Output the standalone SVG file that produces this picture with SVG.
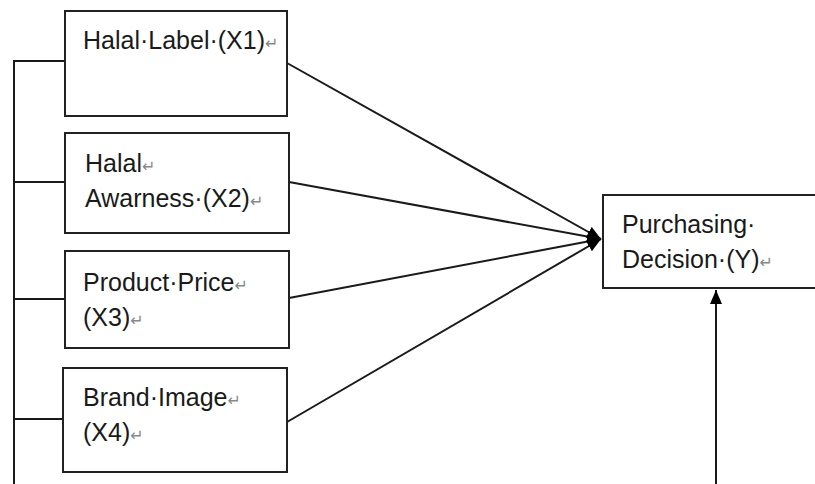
<svg xmlns="http://www.w3.org/2000/svg" width="815" height="484" viewBox="0 0 815 484">
  <defs>
    <marker id="arr" viewBox="0 0 14 12" refX="14" refY="6" markerWidth="14" markerHeight="12" markerUnits="userSpaceOnUse" orient="auto">
      <path d="M0,0 L14,6 L0,12 Z" fill="#000"/>
    </marker>
    <style>
      .box { fill: #fff; stroke: #222; stroke-width: 2; }
      .lbl { font-family: "Liberation Sans", Arial, sans-serif; font-size: 25px; fill: #1a1a1a; }
      .ret { font-family: "DejaVu Sans", sans-serif; font-size: 16px; fill: #888; }
      .conn { stroke: #1a1a1a; stroke-width: 2; fill: none; }
    </style>
  </defs>
  <rect width="815" height="484" fill="#fff"/>

  <g id="connectors">
    <polyline class="conn" points="65,61 14,61 14,484"/>
    <line class="conn" x1="14" y1="182" x2="65" y2="182"/>
    <line class="conn" x1="14" y1="299" x2="65" y2="299"/>
    <line class="conn" x1="14" y1="419" x2="63" y2="419"/>
    <line class="conn" x1="287" y1="63" x2="601" y2="239" marker-end="url(#arr)"/>
    <line class="conn" x1="289" y1="182" x2="601" y2="239" marker-end="url(#arr)"/>
    <line class="conn" x1="289" y1="298" x2="601" y2="239" marker-end="url(#arr)"/>
    <line class="conn" x1="287" y1="422" x2="601" y2="239" marker-end="url(#arr)"/>
    <line class="conn" x1="716" y1="484" x2="716" y2="290" marker-end="url(#arr)"/>
  </g>

  <g id="x1">
    <rect class="box" x="65" y="11" width="222" height="105"/>
    <text class="lbl" x="83" y="49">Halal·Label·(X1)<tspan class="ret">↵</tspan></text>
  </g>
  <g id="x2">
    <rect class="box" x="65" y="133" width="224" height="100"/>
    <text class="lbl" x="85" y="172">Halal<tspan class="ret">↵</tspan></text>
    <text class="lbl" x="85" y="207">Awarness·(X2)<tspan class="ret">↵</tspan></text>
  </g>
  <g id="x3">
    <rect class="box" x="65" y="251" width="224" height="97"/>
    <text class="lbl" x="83" y="291">Product·Price<tspan class="ret">↵</tspan></text>
    <text class="lbl" x="83" y="326">(X3)<tspan class="ret">↵</tspan></text>
  </g>
  <g id="x4">
    <rect class="box" x="63" y="368" width="224" height="104"/>
    <text class="lbl" x="83" y="406">Brand·Image<tspan class="ret">↵</tspan></text>
    <text class="lbl" x="83" y="441">(X4)<tspan class="ret">↵</tspan></text>
  </g>
  <g id="y">
    <rect class="box" x="603" y="195" width="220" height="93"/>
    <text class="lbl" x="622" y="233">Purchasing·</text>
    <text class="lbl" x="622" y="268">Decision·(Y)<tspan class="ret">↵</tspan></text>
  </g>
</svg>
